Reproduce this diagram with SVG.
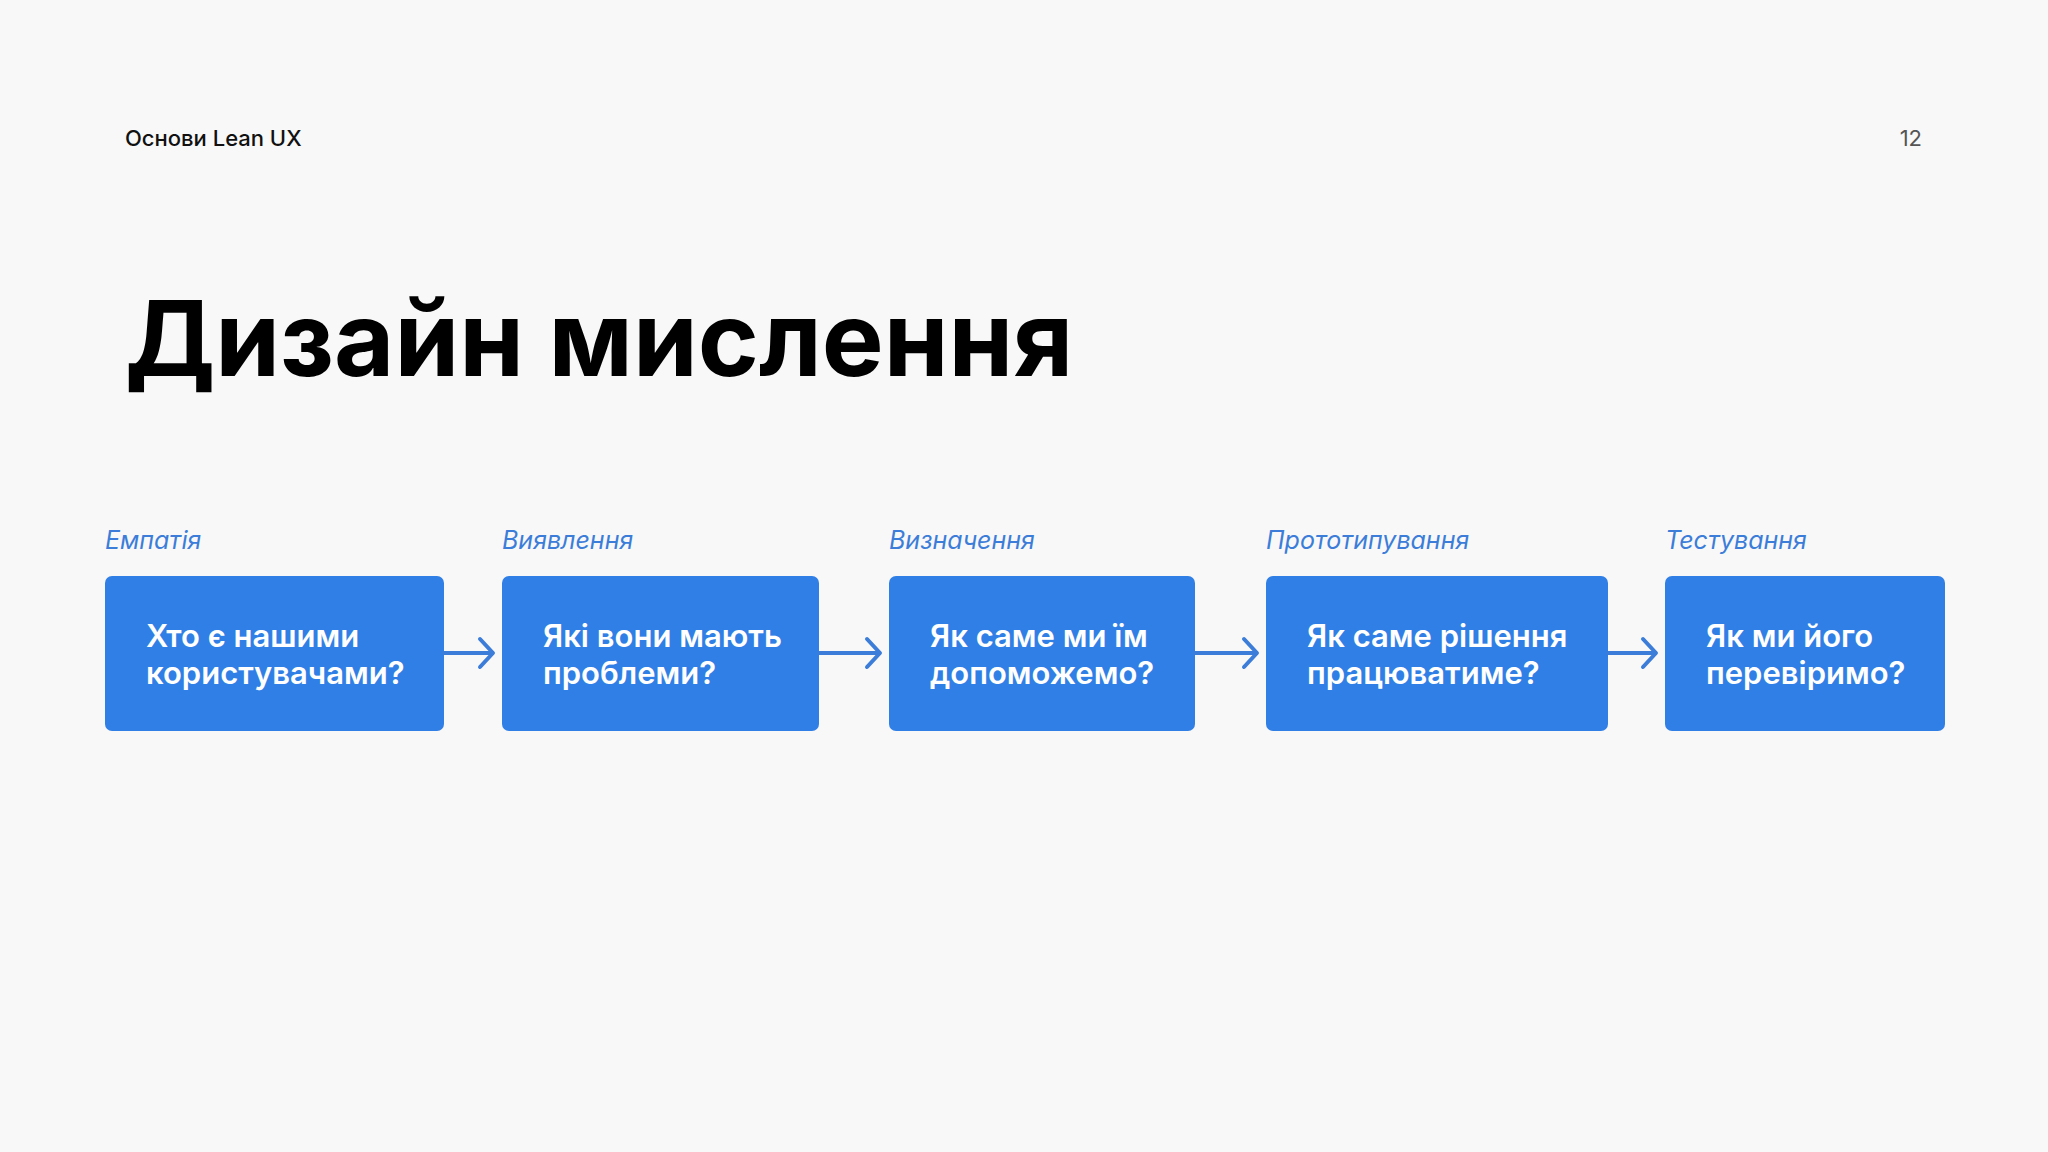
<svg xmlns="http://www.w3.org/2000/svg" width="2048" height="1152" viewBox="0 0 2048 1152">
<style>
.lbl{font-family:Inter,"Noto Sans",sans-serif;font-style:italic;font-size:25px;fill:#3B7DD8}
.box{fill:#2F7FE6}
.bt{font-family:Inter,"Noto Sans",sans-serif;font-weight:600;font-size:31px;fill:#fff}
.arr{stroke:#3B7DD8;stroke-width:4;fill:none;stroke-linecap:round;stroke-linejoin:round}
</style>
<rect width="2048" height="1152" fill="#F8F8F8"/>
<text x="125" y="146" font-family="Inter,'Noto Sans',sans-serif" font-weight="500" font-size="22" fill="#111">Основи Lean UX</text>
<text x="1922" y="146" text-anchor="end" font-family="Inter,'Noto Sans',sans-serif" font-size="22" fill="#555">12</text>
<text x="125" y="376" font-family="Inter,'Noto Sans',sans-serif" font-weight="700" font-size="104" fill="#000">Дизайн мислення</text>
<g id="n1"><text class="lbl" x="105" y="549">Емпатія</text><rect class="box" x="105" y="576" width="339" height="155" rx="7"/><text class="bt" x="146" y="647">Хто є нашими</text><text class="bt" x="146" y="684">користувачами?</text></g>
<g id="n2"><text class="lbl" x="502" y="549">Виявлення</text><rect class="box" x="502" y="576" width="317" height="155" rx="7"/><text class="bt" x="543" y="647">Які вони мають</text><text class="bt" x="543" y="684">проблеми?</text></g>
<g id="n3"><text class="lbl" x="889" y="549">Визначення</text><rect class="box" x="889" y="576" width="306" height="155" rx="7"/><text class="bt" x="930" y="647">Як саме ми їм</text><text class="bt" x="930" y="684">допоможемо?</text></g>
<g id="n4"><text class="lbl" x="1266" y="549">Прототипування</text><rect class="box" x="1266" y="576" width="342" height="155" rx="7"/><text class="bt" x="1307" y="647">Як саме рішення</text><text class="bt" x="1307" y="684">працюватиме?</text></g>
<g id="n5"><text class="lbl" x="1665" y="549">Тестування</text><rect class="box" x="1665" y="576" width="280" height="155" rx="7"/><text class="bt" x="1706" y="647">Як ми його</text><text class="bt" x="1706" y="684">перевіримо?</text></g>
<g id="connectors">
<path class="arr" d="M444 653H492M480 639L493 653L480 667"/>
<path class="arr" d="M819 653H879M867 639L880 653L867 667"/>
<path class="arr" d="M1195 653H1256M1244 639L1257 653L1244 667"/>
<path class="arr" d="M1608 653H1655M1643 639L1656 653L1643 667"/>
</g>
</svg>
